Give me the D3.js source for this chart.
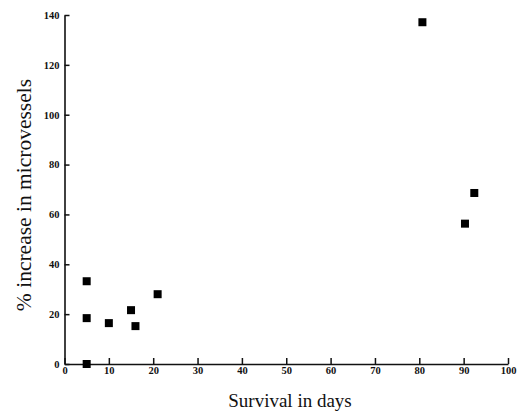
<!DOCTYPE html>
<html><head><meta charset="utf-8">
<script src="https://cdn.jsdelivr.net/npm/d3@7"></script>
<style>body{margin:0;background:#fff;}svg{display:block;}</style>
</head><body>
<script>
const days = [5, 5, 5, 10, 15, 16, 21, 80.7, 90.3, 92.4];
const increase = [0, 18.4, 33.2, 16.4, 21.6, 15.2, 28, 137.1, 56.3, 68.6];
const xTicks = [0, 10, 20, 30, 40, 50, 60, 70, 80, 90, 100];
const yTicks = [0, 20, 40, 60, 80, 100, 120, 140];
const xTitle = "Survival in days";
const yTitle = "% increase in microvessels";

const W = 519, H = 414;
const svg = d3.select("body").append("svg").attr("width", W).attr("height", H);
const x = d3.scaleLinear().domain([0, 100]).range([64.5, 508]);
const y = d3.scaleLinear().domain([0, 140]).range([364, 15]);
const font = "'Liberation Serif', 'Times New Roman', serif";

const xAxis = d3.axisBottom(x).tickValues(xTicks).tickSizeInner(-6).tickSizeOuter(0).tickPadding(3);
const gx = svg.append("g").attr("transform", `translate(0,${y(0)})`).call(xAxis);
gx.select(".domain").attr("stroke", "#111").attr("stroke-width", 1.6);
gx.selectAll(".tick line").attr("stroke", "#111").attr("stroke-width", 1.5);
gx.selectAll("text").attr("font-family", font).attr("font-size", 10.5).attr("font-weight", "bold").attr("fill", "#111");

const yAxis = d3.axisLeft(y).tickValues(yTicks).tickSizeInner(-5).tickSizeOuter(0).tickPadding(5);
const gy = svg.append("g").attr("transform", `translate(${x(0)},0)`).call(yAxis);
gy.select(".domain").attr("stroke", "#111").attr("stroke-width", 1.6);
gy.selectAll(".tick line").attr("stroke", "#111").attr("stroke-width", 1.5);
gy.selectAll("text").attr("font-family", font).attr("font-size", 10.5).attr("font-weight", "bold").attr("fill", "#111");

svg.append("g").selectAll("rect").data(days.map((d, i) => [d, increase[i]])).join("rect")
  .attr("x", d => x(d[0]) - 4).attr("y", d => y(d[1]) - 4)
  .attr("width", 8).attr("height", 8).attr("fill", "#000");

svg.append("text").attr("x", 290).attr("y", 407).attr("text-anchor", "middle")
  .attr("font-family", font).attr("font-size", 19).attr("fill", "#111").text(xTitle);
svg.append("text").attr("transform", "translate(31,195) rotate(-90)").attr("text-anchor", "middle")
  .attr("font-family", font).attr("font-size", 21.5).attr("fill", "#111").text(yTitle);
</script>
</body></html>
